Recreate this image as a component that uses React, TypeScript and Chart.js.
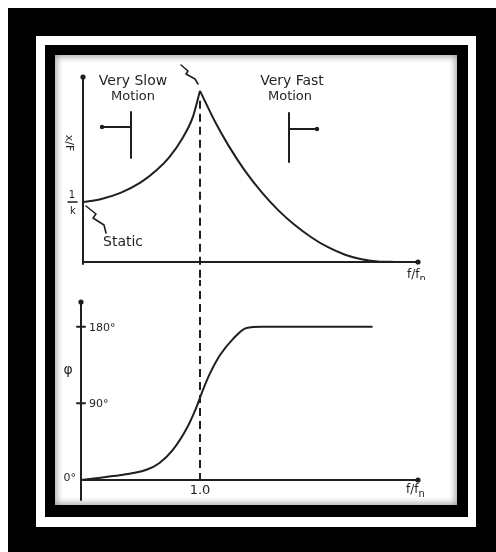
import { useEffect, useRef } from 'react';
import { Chart, registerables } from 'chart.js';

Chart.register(...registerables);

// frequency ratio f/fn and response
const ampRiseX = [0, 0.15, 0.32, 0.49, 0.63, 0.74, 0.85, 0.94, 1.0];
const ampRiseY = [1.0, 1.045, 1.15, 1.32, 1.53, 1.75, 2.06, 2.42, 2.85];
const ampFallX = [1.0, 1.13, 1.24, 1.38, 1.53, 1.67, 1.81, 1.96, 2.09, 2.24, 2.38, 2.52, 2.67];
const ampFallY = [2.85, 2.33, 1.95, 1.53, 1.155, 0.86, 0.615, 0.4, 0.25, 0.12, 0.045, 0.01, 0.0];

const phaseX = [0, 0.27, 0.55, 0.66, 0.77, 0.89, 0.96, 1.02, 1.08, 1.17, 1.28, 1.39, 1.52, 2.45];
const phaseY = [0, 4.6, 12, 20, 35, 61, 82, 104, 124, 147, 166, 178.5, 180, 180];

const phaseTicks = [90, 180];
const phaseTickLabels = ['90°', '180°'];
const RESONANCE = 1.0;
const RESONANCE_LABEL = '1.0';
const STATIC_LEVEL = 1;

const INK = '#1f1f1f';
const FONT = '"DejaVu Sans", sans-serif';

const pts = (xs: number[], ys: number[]) => xs.map((x, i) => ({ x, y: ys[i] }));

type P = [number, number];
function path(ctx: CanvasRenderingContext2D, p: P[]) {
  ctx.beginPath();
  ctx.moveTo(p[0][0], p[0][1]);
  p.slice(1).forEach(([x, y]) => ctx.lineTo(x, y));
  ctx.stroke();
}
function dot(ctx: CanvasRenderingContext2D, x: number, y: number, r = 2.6) {
  ctx.beginPath();
  ctx.arc(x, y, r, 0, Math.PI * 2);
  ctx.fill();
}
function text(ctx: CanvasRenderingContext2D, s: string, x: number, y: number, size: number, align: CanvasTextAlign = 'center') {
  ctx.font = `${size}px ${FONT}`;
  ctx.textAlign = align;
  ctx.textBaseline = 'middle';
  ctx.fillText(s, x, y);
}
function ffn(ctx: CanvasRenderingContext2D, x: number, y: number) {
  text(ctx, 'f/f', x, y, 12, 'left');
  const w = ctx.measureText('f/f').width;
  text(ctx, 'n', x + w, y + 4, 10, 'left');
}

const lineStyle = {
  borderColor: INK,
  borderWidth: 2,
  pointRadius: 0,
  cubicInterpolationMode: 'monotone' as const,
};

const amplitudeDecor = {
  id: 'amplitudeDecor',
  beforeDatasetsDraw(chart: any) {
    const { ctx, scales: { x, y } } = chart;
    const xc = x.getPixelForValue(RESONANCE);
    ctx.save();
    ctx.strokeStyle = INK;
    ctx.lineWidth = 2;
    ctx.setLineDash([8, 5]);
    path(ctx, [[xc, y.getPixelForValue(ampRiseY[ampRiseY.length - 1]) + 10], [xc, chart.height]]);
    ctx.restore();
  },
  afterDatasetsDraw(chart: any) {
    const { ctx, chartArea: a, scales: { y } } = chart;
    ctx.save();
    ctx.strokeStyle = INK;
    ctx.fillStyle = INK;
    ctx.lineWidth = 2;
    ctx.lineCap = 'round';
    ctx.lineJoin = 'round';
    // axes
    path(ctx, [[a.left, a.bottom + 2], [a.left, a.top]]);
    path(ctx, [[a.left, a.bottom], [a.right, a.bottom]]);
    dot(ctx, a.left, a.top);
    dot(ctx, a.right, a.bottom);
    ffn(ctx, a.right - 11, a.bottom + 13);

    // y label x/F and 1/k
    ctx.save();
    ctx.translate(a.left - 14, 88);
    ctx.rotate(Math.PI / 2);
    text(ctx, 'x/F', 0, 0, 11);
    ctx.restore();
    const ys = y.getPixelForValue(STATIC_LEVEL);
    text(ctx, '1', a.left - 11, ys - 7, 10);
    ctx.lineWidth = 1.5;
    path(ctx, [[a.left - 15, ys], [a.left - 6, ys]]);
    text(ctx, 'k', a.left - 10, ys + 9, 10);
    ctx.lineWidth = 2;

    // regions
    text(ctx, 'Very Slow', 78, 26, 14);
    text(ctx, 'Motion', 78, 42, 13);
    text(ctx, 'Very Fast', 237, 26, 14);
    text(ctx, 'Motion', 235, 42, 13);
    path(ctx, [[47, 72], [75, 72]]);
    dot(ctx, 47, 72, 2.2);
    path(ctx, [[76, 57], [76, 103]]);
    path(ctx, [[234, 58], [234, 107]]);
    path(ctx, [[234, 74], [262, 74]]);
    dot(ctx, 262, 74, 2.2);

    // pointers
    ctx.lineWidth = 1.6;
    path(ctx, [[126, 10], [133, 16], [131, 19], [140, 24], [143, 29]]);
    path(ctx, [[31, 151], [41, 159], [38, 163], [49, 170], [51, 178]]);
    text(ctx, 'Static', 48, 187, 14, 'left');
    ctx.restore();
  },
};

const phaseDecor = {
  id: 'phaseDecor',
  beforeDatasetsDraw(chart: any) {
    const { ctx, chartArea: a, scales: { x } } = chart;
    const xc = x.getPixelForValue(RESONANCE);
    ctx.save();
    ctx.strokeStyle = INK;
    ctx.lineWidth = 2;
    ctx.setLineDash([8, 5]);
    ctx.lineDashOffset = 2;
    path(ctx, [[xc, 0], [xc, a.bottom]]);
    ctx.restore();
  },
  afterDatasetsDraw(chart: any) {
    const { ctx, chartArea: a, scales: { x, y } } = chart;
    ctx.save();
    ctx.strokeStyle = INK;
    ctx.fillStyle = INK;
    ctx.lineWidth = 2;
    ctx.lineCap = 'round';
    path(ctx, [[a.left, a.bottom + 20], [a.left, a.top]]);
    path(ctx, [[a.left, a.bottom], [a.right, a.bottom]]);
    dot(ctx, a.left, a.top);
    dot(ctx, a.right, a.bottom);
    ffn(ctx, a.right - 12, a.bottom + 10);

    phaseTicks.forEach((t, i) => {
      const py = y.getPixelForValue(t);
      path(ctx, [[a.left - 4, py], [a.left + 4, py]]);
      text(ctx, phaseTickLabels[i], a.left + 8, py + 1, 11, 'left');
    });
    text(ctx, '0°', a.left - 5, a.bottom - 2, 11, 'right');
    text(ctx, 'φ', a.left - 13, 90, 14);
    text(ctx, RESONANCE_LABEL, x.getPixelForValue(RESONANCE), a.bottom + 11, 13);
    ctx.restore();
  },
};

function useLineChart(
  ref: React.RefObject<HTMLCanvasElement | null>,
  datasets: any[],
  xMax: number,
  yMax: number,
  padding: { left: number; right: number; top: number; bottom: number },
  decor: any,
) {
  useEffect(() => {
    if (!ref.current) return;
    const chart = new Chart(ref.current, {
      type: 'line',
      data: { datasets },
      options: {
        responsive: true,
        maintainAspectRatio: false,
        animation: false,
        layout: { padding },
        plugins: { legend: { display: false }, tooltip: { enabled: false } },
        scales: {
          x: { type: 'linear', min: 0, max: xMax, display: false },
          y: { type: 'linear', min: 0, max: yMax, display: false },
        },
      },
      plugins: [decor],
    });
    return () => chart.destroy();
  }, []);
}

export default function App() {
  const topRef = useRef<HTMLCanvasElement>(null);
  const bottomRef = useRef<HTMLCanvasElement>(null);

  useLineChart(
    topRef,
    [
      { data: pts(ampRiseX, ampRiseY), ...lineStyle },
      { data: pts(ampFallX, ampFallY), ...lineStyle },
    ],
    2.863,
    3.08,
    { left: 28, right: 39, top: 22, bottom: 18 },
    amplitudeDecor,
  );
  useLineChart(
    bottomRef,
    [{ data: pts(phaseX, phaseY), ...lineStyle }],
    2.832,
    209,
    { left: 26, right: 39, top: 22, bottom: 25 },
    phaseDecor,
  );

  const box = (l: number, t: number, w: number, h: number, bg: string) => ({
    position: 'absolute' as const, left: l, top: t, width: w, height: h, background: bg,
  });

  return (
    <div style={{ position: 'fixed', left: 0, top: 0, width: 496, height: 552, background: '#fff', overflow: 'hidden' }}>
      <div style={box(8, 8, 488, 544, '#000')} />
      <div style={box(36, 36, 440, 491, '#fff')} />
      <div style={box(45, 45, 423, 472, '#000')} />
      <div style={{ ...box(55, 55, 402, 450, '#fff'), boxShadow: 'inset 0 0 6px 2px rgba(0,0,0,0.35)' }}>
        <div style={{ position: 'absolute', left: 0, top: 0, width: 402, height: 225 }}>
          <canvas ref={topRef} role="img" aria-label="Amplitude response x/F versus f/fn" />
        </div>
        <div style={{ position: 'absolute', left: 0, top: 225, width: 402, height: 225 }}>
          <canvas ref={bottomRef} role="img" aria-label="Phase angle versus f/fn" />
        </div>
      </div>
    </div>
  );
}
